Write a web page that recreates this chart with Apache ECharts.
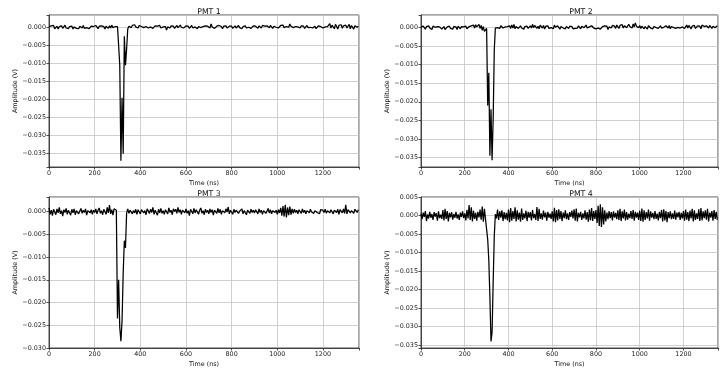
<!DOCTYPE html>
<html><head><meta charset="utf-8">
<script src="https://cdn.jsdelivr.net/npm/echarts@6/dist/echarts.min.js"></script>
<style>html,body{margin:0;padding:0;background:#fff}#c{width:721px;height:368px}</style>
</head><body><div id="c"></div>
<script>
// Panel titles and axis tick labels
const titles = ['PMT 1', 'PMT 2', 'PMT 3', 'PMT 4'];
const xTicks = [0, 200, 400, 600, 800, 1000, 1200];
const yTicksA = [0, -0.005, -0.010, -0.015, -0.020, -0.025, -0.030, -0.035];
const yTicksC = [0, -0.005, -0.010, -0.015, -0.020, -0.025, -0.030];
const yTicksD = [0.005, 0, -0.005, -0.010, -0.015, -0.020, -0.025, -0.030, -0.035];
const yMin = [-0.0387, -0.0375, -0.0300, -0.0358];
const yMax = [0.0034, 0.0033, 0.0032, 0.0050];
const xMax = 1358;

// Sample spacing (ns); amplitudes below are in mV, one per 5 ns sample
const sampleStepNs = 5;

const pmt1_mV = [
0.2,-0.3,0.4,-0.1,0.5,-0.4,0.1,0.3,-0.5,0.2,-0.2,0.4,-0.3,0.1,0.6,-0.2,0.3,-0.4,0.2,-0.1,
0.3,-0.5,0.1,0.4,-0.3,0.2,-0.4,0.3,0.0,-0.2,0.5,-0.3,0.2,-0.1,0.4,-0.4,0.1,0.3,-0.2,0.2,
-0.3,0.5,0.1,-0.4,0.3,-0.2,0.4,-0.1,0.2,-0.5,0.3,0.1,-0.3,0.4,-0.2,0.6,-0.1,0.3,0.2,0.4,
0.2,-5.0,-10.5,-37.0,-19.5,-35.0,-2.5,-10.5,-6.0,-0.5,0.3,0.6,-0.1,0.5,0.2,0.7,0.1,0.4,-0.2,0.5,
0.6,0.2,0.5,-0.1,0.4,0.2,0.6,-0.2,0.3,0.1,0.5,-0.3,0.2,0.4,-0.1,0.3,0.0,0.5,-0.2,0.3,
0.1,-0.4,0.2,-0.8,0.1,0.3,-0.2,0.4,0.0,0.3,-0.3,0.2,0.5,-0.1,0.4,0.6,0.0,0.3,-0.2,0.2,
0.4,-0.1,0.3,-0.3,0.2,0.5,-0.2,0.3,0.1,0.4,-0.4,0.2,0.6,-0.1,0.3,0.2,-0.3,0.4,0.1,0.3,
0.5,-0.2,0.9,0.1,0.4,-0.3,0.2,0.3,-0.1,0.5,0.0,0.2,-0.4,0.3,0.1,0.4,-0.2,0.2,0.3,-0.1,
0.3,-0.3,0.2,0.4,-0.2,0.1,0.5,-0.1,0.3,-0.4,0.2,0.1,0.4,-0.2,0.3,0.0,0.5,-0.3,0.2,0.4,
-0.1,0.3,0.1,-0.3,0.4,0.2,-0.2,0.5,0.0,0.3,-0.2,0.4,0.1,-0.1,0.5,0.2,-0.3,0.3,0.6,0.0,
0.4,-0.2,0.3,0.5,0.1,0.6,-0.1,0.4,0.2,0.7,0.0,0.9,0.3,0.5,-0.1,0.4,0.2,0.6,0.1,0.3,
-0.2,0.4,0.1,0.3,-0.3,0.2,0.5,-0.1,0.3,0.0,0.4,-0.2,0.2,0.3,-0.4,0.1,0.4,-0.1,0.2,0.3,
-0.2,0.3,0.1,-0.3,0.2,0.4,1.0,-0.2,0.6,0.3,-0.4,0.8,0.2,-0.5,0.5,0.1,0.7,-0.3,0.4,0.2,
0.6,-0.2,0.3,0.8,-0.4,0.5,0.1,-0.5,0.4,0.7,0.0,0.3
];

const pmt2_mV = [
0.1,-0.4,0.3,0.0,-0.5,0.2,-0.3,0.4,-0.2,0.1,-0.6,0.3,-0.2,0.0,-0.4,0.2,-0.3,0.1,0.3,-0.5,
-0.2,0.2,-0.6,-0.1,0.1,-0.4,0.3,-0.3,0.0,-0.5,0.2,-0.2,0.1,-0.6,0.3,-0.1,-0.4,0.2,-0.3,0.1,
-0.2,0.3,-0.4,0.1,0.2,-0.3,0.4,-0.1,0.6,-0.2,0.7,0.1,0.4,0.8,-0.3,0.5,-0.8,0.2,-1.1,-0.6,
-0.3,-21.0,-12.2,-34.5,-22.0,-35.7,-24.5,-6.1,-0.2,0.3,-0.1,0.2,-0.3,0.4,0.0,-0.2,0.3,0.1,-0.4,0.2,
-0.1,0.4,-0.3,0.6,-0.2,0.8,-0.4,0.2,0.5,-0.3,0.1,0.4,-0.2,0.3,-0.5,0.2,0.0,0.3,-0.3,0.1,
0.4,-0.2,0.8,-0.1,0.5,0.9,-0.3,0.3,-0.4,0.6,0.1,-0.2,0.5,-0.5,0.3,0.0,0.4,-0.3,0.2,-0.1,
0.3,-0.4,0.6,0.0,-0.3,0.4,0.1,-0.5,0.2,0.3,-0.2,0.1,-0.4,0.2,0.0,-0.3,0.3,-0.1,0.2,-0.4,
0.1,-0.3,0.2,-0.2,0.4,0.0,-0.4,0.3,0.5,-0.1,0.2,0.6,-0.2,0.3,0.1,-0.3,0.4,0.0,-0.2,0.2,
-0.4,0.1,-0.2,0.3,-0.5,0.0,0.2,-0.3,0.4,-0.1,0.3,-0.6,0.1,0.4,-0.2,0.5,0.0,0.3,-0.3,0.6,
0.2,-0.3,0.5,0.1,0.7,-0.2,0.4,0.6,-0.1,0.3,0.8,0.2,0.5,-0.2,0.9,0.1,1.2,0.3,0.6,-0.1,
0.5,-0.3,0.3,0.6,-0.4,0.2,0.1,-0.5,0.4,0.0,-0.2,0.3,-0.4,0.2,0.5,-0.1,0.3,-0.3,0.1,0.4,
-0.2,0.3,0.0,-0.3,0.4,0.1,-0.2,0.5,-0.4,0.2,0.3,-0.1,0.4,-0.3,0.2,0.0,0.5,-0.2,0.3,0.1,
0.4,-0.3,0.2,0.6,-0.2,0.5,0.1,-0.4,0.3,0.0,0.5,-0.3,0.2,0.4,-0.1,0.3,-0.4,0.6,0.1,0.2,
-0.3,0.4,0.2,-0.2,0.5,0.0,-0.3,0.3,0.6,-0.1,0.2,0.4
];

const pmt3_mV = [
0.8,-0.6,0.3,-0.9,0.5,0.1,-0.7,0.6,-0.3,0.9,-0.5,0.2,-1.0,0.4,-0.2,0.7,-0.6,0.3,0.1,-0.8,
0.5,-0.3,0.6,-0.7,0.2,0.4,-0.5,0.1,0.7,-0.4,0.3,-0.2,0.6,-0.8,0.2,0.5,-0.3,0.4,-0.6,0.3,
-0.2,0.6,-0.5,0.3,0.8,-0.4,0.2,-0.7,0.5,0.1,-0.6,0.9,-0.3,1.4,-0.5,0.4,-0.8,0.6,0.2,0.3,
-23.5,-15.0,-25.5,-28.5,-24.0,-13.5,-6.4,-8.0,-0.3,0.6,-0.4,0.3,0.7,-0.5,0.2,-0.3,0.5,-0.6,0.4,0.1,
-0.5,0.4,0.8,-0.3,0.2,-0.7,0.6,0.1,-0.4,0.5,-0.2,0.9,-0.6,0.3,0.0,-0.8,0.5,-0.3,0.7,-0.4,
0.2,-0.6,0.4,0.1,-0.5,0.8,-0.2,0.3,-0.7,0.6,0.0,0.5,-0.4,0.9,-0.2,0.4,-0.6,0.3,0.1,-0.3,
0.6,-0.4,0.2,-0.9,0.5,0.1,-0.5,0.7,-0.3,0.4,0.0,-0.6,0.3,0.8,-0.4,0.2,-0.7,0.5,-0.2,0.3,
-0.5,0.6,-0.2,0.4,-0.8,0.3,0.1,-0.4,0.7,-0.3,0.5,-0.6,0.2,0.4,-0.3,0.6,-0.1,1.0,-0.5,0.3,
0.2,-0.6,0.5,-0.2,0.3,0.7,-0.4,0.1,-0.3,0.6,-0.5,0.2,0.4,-0.7,0.3,0.0,-0.4,0.5,-0.2,0.3,
-0.3,0.4,0.1,-0.5,0.6,-0.2,0.3,-0.6,0.2,0.5,-0.4,0.1,0.7,-0.3,0.4,-0.5,0.2,0.6,-0.2,0.3,
-0.6,0.4,-0.3,0.8,-0.9,1.2,-1.1,1.5,-1.3,0.9,-0.8,1.1,-0.7,0.6,-0.4,0.5,-0.2,0.3,-0.5,0.4,
0.1,-0.4,0.6,-0.2,0.3,-0.5,0.2,0.4,-0.3,0.5,-0.1,0.3,-0.4,0.2,0.6,-0.2,0.1,-0.5,0.4,0.0,
0.3,-0.2,0.5,-0.4,0.2,0.6,-0.3,0.4,0.0,-0.5,0.3,0.7,-0.2,0.5,-0.6,0.4,0.1,-0.3,0.6,-0.4,
1.5,-0.5,0.4,0.8,-0.3,0.2,0.6,-0.4,0.5,0.1,-0.2,0.4
];

const pmt4_mV = [
0.5,-1.0,0.8,-0.4,1.2,-1.5,0.3,-0.8,1.0,-0.6,0.4,-1.2,0.9,-0.3,0.6,-1.4,1.1,-0.7,0.2,-0.9,
1.5,-1.3,1.8,-0.9,1.2,-1.6,0.7,-0.5,0.9,-1.1,0.4,-0.6,1.0,-0.8,0.3,-1.2,0.8,-0.4,1.1,-0.7,
0.6,-1.3,1.5,-0.8,2.8,-1.2,2.2,-1.6,1.3,-0.9,0.7,-1.4,1.0,-0.5,1.6,-1.1,2.4,-1.7,1.8,-1.0,
-1.0,-6.5,-12.0,-22.0,-34.0,-31.5,-18.0,-5.6,0.4,-0.8,1.6,-1.2,1.1,-0.6,1.4,-1.5,0.9,-1.0,0.7,-1.3,
1.6,-1.8,2.0,-1.4,1.2,-0.9,2.2,-1.6,1.4,-1.1,0.8,-1.7,1.9,-1.2,0.6,-0.8,1.3,-1.5,1.0,-0.6,
0.9,-1.3,1.5,-0.7,0.4,-1.2,2.3,-1.5,1.8,-0.9,0.6,-1.1,1.3,-0.5,0.8,-1.4,1.0,-0.6,0.5,-0.9,
1.1,-1.6,2.1,-1.8,1.5,-1.3,1.7,-0.9,1.2,-1.5,0.8,-0.7,1.4,-1.0,0.6,-1.2,0.9,-0.4,1.3,-0.8,
1.7,-1.4,1.9,-1.6,0.7,-0.5,1.0,-1.2,0.6,-0.8,1.4,-1.1,0.9,-1.7,1.6,-1.3,2.0,-1.5,1.2,-0.9,
1.5,-2.0,2.6,-2.8,3.0,-3.1,2.2,-2.4,1.4,-1.6,0.8,-1.0,1.2,-0.7,0.9,-1.3,1.1,-0.6,0.7,-1.0,
1.4,-1.2,1.8,-1.5,1.1,-0.8,1.6,-1.3,0.9,-1.1,0.5,-0.7,1.2,-0.9,1.5,-1.4,1.0,-0.6,0.8,-1.2,
1.3,-1.5,1.9,-1.7,1.4,-1.2,0.9,-0.8,1.6,-1.4,1.1,-0.6,0.7,-1.0,1.2,-0.9,0.5,-1.3,1.0,-0.7,
1.5,-1.6,1.7,-1.3,1.2,-1.8,0.9,-0.7,1.1,-1.0,0.6,-0.9,1.3,-1.1,0.8,-0.5,1.0,-1.2,0.7,-0.8,
1.2,-1.4,1.6,-1.1,0.9,-1.5,1.3,-0.8,1.8,-1.6,1.4,-1.2,0.6,-0.9,1.7,-1.5,2.0,-1.3,1.1,-0.7,
1.4,-1.1,1.8,-1.6,0.8,-0.6,1.2,-1.4,1.5,-0.9,1.0,-1.2
];

const channels = [pmt1_mV, pmt2_mV, pmt3_mV, pmt4_mV];
const yTickSets = [yTicksA, yTicksA, yTicksC, yTicksD];

function toPairs(arr) {
  return arr.map((mv, i) => [i * sampleStepNs, mv / 1000]);
}
function fmtY(ticks) {
  return function (v) {
    for (const t of ticks) {
      if (Math.abs(v - t) < 1e-7) {
        if (Math.abs(t) < 1e-9) return '0.000';
        return (t < 0 ? '\u2212' : '') + Math.abs(t).toFixed(3);
      }
    }
    return '';
  };
}
function fmtX(v) {
  for (const t of xTicks) if (Math.abs(v - t) < 1e-6) return String(t);
  return '';
}

const font = 'DejaVu Sans';
const gridPos = [
  {left: 49, top: 15, width: 310, height: 152},
  {left: 421, top: 15, width: 310, height: 152},
  {left: 49, top: 197, width: 310, height: 151},
  {left: 421, top: 197, width: 310, height: 151}
];

const option = {
  animation: false,
  backgroundColor: '#fff',
  textStyle: {fontFamily: font},
  title: gridPos.map((g, i) => ({
    text: titles[i],
    left: g.left + g.width / 2,
    top: g.top - 12,
    textAlign: 'center',
    textStyle: {fontSize: 7.8, fontWeight: 'normal', color: '#111', fontFamily: font}
  })),
  grid: gridPos.map(g => Object.assign({show: true, borderColor: '#222', borderWidth: 0.8, backgroundColor: 'transparent'}, g)),
  xAxis: gridPos.map((g, i) => ({
    type: 'value', gridIndex: i, min: 0, max: xMax, interval: 200,
    name: 'Time (ns)', nameLocation: 'middle', nameGap: 13,
    nameTextStyle: {fontSize: 6.4, color: '#111', fontFamily: font},
    axisLine: {show: true, onZero: false, lineStyle: {color: '#222', width: 0.8}},
    axisTick: {show: true, length: 2.5, lineStyle: {color: '#222', width: 0.8}},
    axisLabel: {fontSize: 6.4, color: '#222', margin: 3, formatter: fmtX, showMaxLabel: true, fontFamily: font},
    splitLine: {show: true, lineStyle: {color: '#c4c4c4', width: 0.8}}
  })),
  yAxis: gridPos.map((g, i) => ({
    type: 'value', gridIndex: i, min: yMin[i], max: yMax[i],
    splitNumber: 8, minInterval: 0.005, maxInterval: 0.005,
    name: 'Amplitude (V)', nameLocation: 'middle', nameGap: 30,
    nameTextStyle: {fontSize: 6.4, color: '#111', fontFamily: font},
    axisLine: {show: true, lineStyle: {color: '#222', width: 0.8}},
    axisTick: {show: true, length: 2.5, lineStyle: {color: '#222', width: 0.8}},
    axisLabel: {fontSize: 6.4, color: '#222', margin: 3, formatter: fmtY(yTickSets[i]), showMinLabel: true, showMaxLabel: true, fontFamily: font},
    splitLine: {show: true, lineStyle: {color: '#c4c4c4', width: 0.8}}
  })),
  series: channels.map((arr, i) => ({
    type: 'line', xAxisIndex: i, yAxisIndex: i,
    data: toPairs(arr), showSymbol: false, symbol: 'none',
    sampling: null, silent: true,
    lineStyle: {color: '#000', width: 1.25}
  }))
};

const chart = echarts.init(document.getElementById('c'), null, {renderer: 'canvas'});
chart.setOption(option);
</script>
</body></html>
